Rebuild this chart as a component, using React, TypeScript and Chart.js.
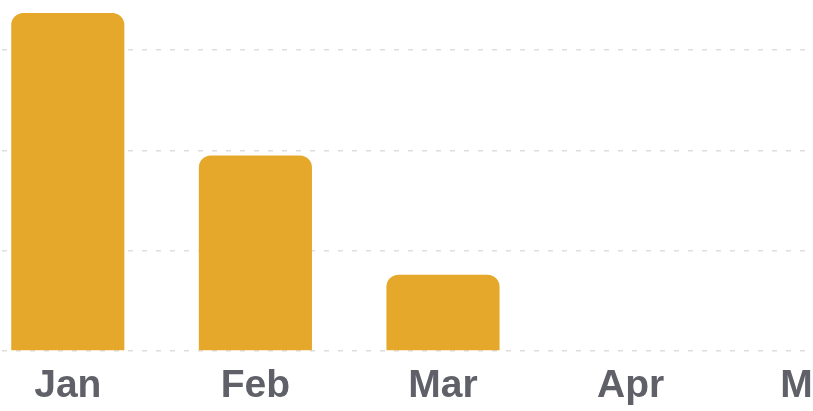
import React, { useEffect, useRef } from "react";
import { Chart, registerables } from "chart.js";

Chart.register(...registerables);

const categories = ["Jan", "Feb", "Mar", "Apr", "May"];
const values = [3.37, 1.95, 0.76, 0, 0];
const yMin = 0;
const yMax = 3.5;
const yStep = 1;

export default function App() {
  const canvasRef = useRef<HTMLCanvasElement | null>(null);

  useEffect(() => {
    document.body.style.margin = "0";
    const ctx = canvasRef.current;
    if (!ctx) return;
    const chart = new Chart(ctx, {
      type: "bar",
      data: {
        labels: categories,
        datasets: [
          {
            data: values,
            backgroundColor: "#E5A82B",
            borderWidth: 0,
            borderRadius: 12,
            borderSkipped: "start",
            categoryPercentage: 1,
            barPercentage: 0.603,
          },
        ],
      },
      options: {
        animation: false,
        responsive: true,
        maintainAspectRatio: false,
        layout: { padding: 0 },
        plugins: { legend: { display: false }, tooltip: { enabled: false } },
        scales: {
          x: {
            grid: { display: false, drawTicks: false },
            border: { display: false },
            ticks: {
              padding: 12,
              color: "#5F6068",
              font: { family: "'Liberation Sans', Arial, sans-serif", size: 39, weight: "bold" },
            },
            afterFit: (scale: any) => {
              scale.height = 60;
            },
          },
          y: {
            min: yMin,
            max: yMax,
            grid: { color: "#DEDEDE", lineWidth: 1.6, drawTicks: false },
            border: { display: false, dash: [5, 9] },
            ticks: { display: false, stepSize: yStep, includeBounds: false },
            afterFit: (scale: any) => {
              scale.width = 0;
            },
          },
        },
      },
    });
    return () => chart.destroy();
  }, []);

  return (
    <div
      style={{
        position: "fixed",
        left: 0,
        top: 0,
        width: 813,
        height: 411,
        overflow: "hidden",
        background: "#ffffff",
      }}
    >
      <div style={{ position: "absolute", left: -26, top: 0, width: 938, height: 411 }}>
        <canvas ref={canvasRef} />
      </div>
    </div>
  );
}
